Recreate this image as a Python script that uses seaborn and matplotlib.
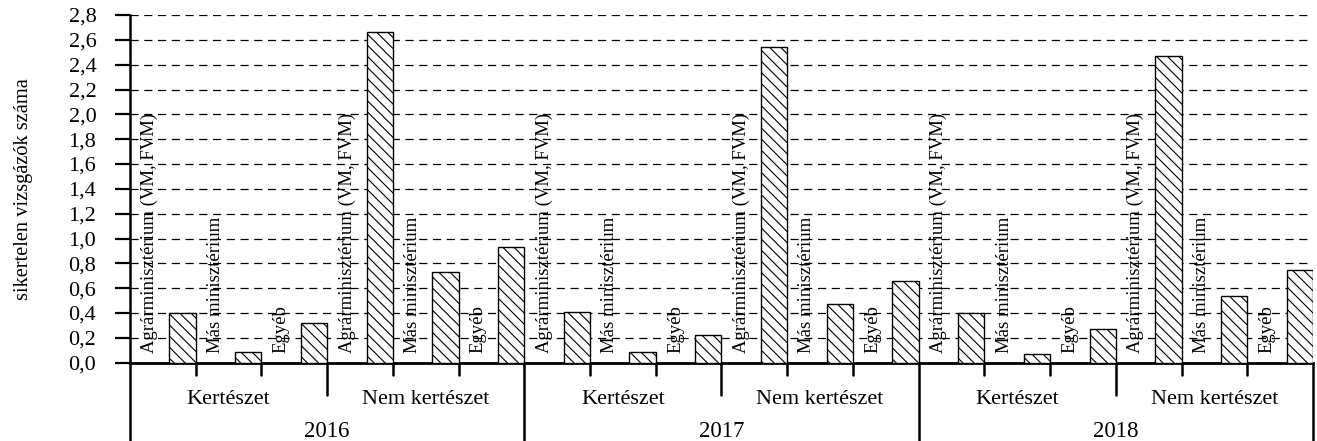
import matplotlib
matplotlib.use("Agg")
import matplotlib.pyplot as plt
import seaborn as sns
import pandas as pd
import numpy as np

# ── data ─────────────────────────────────────────────────────────────────────
years = ["2016", "2017", "2018"]
groups = ["Kertészet", "Nem kertészet"]
categories = ["Agrárminisztérium (VM, FVM)", "Más minisztérium", "Egyéb"]
# order: Kertészet (Agr, Más, Egyéb), Nem kertészet (Agr, Más, Egyéb)
values_2016 = [0.40, 0.09, 0.32, 2.66, 0.73, 0.93]
values_2017 = [0.41, 0.09, 0.22, 2.54, 0.47, 0.66]
values_2018 = [0.40, 0.07, 0.27, 2.47, 0.54, 0.75]
y_ticks = [0.0, 0.2, 0.4, 0.6, 0.8, 1.0, 1.2, 1.4, 1.6, 1.8, 2.0, 2.2, 2.4, 2.6, 2.8]
y_label = "sikertelen vizsgázók száma"

rows = []
for year, vals in zip(years, [values_2016, values_2017, values_2018]):
    for gi, g in enumerate(groups):
        for ci, c in enumerate(categories):
            rows.append({"year": year, "group": g, "category": c,
                         "value": vals[gi * len(categories) + ci]})
df = pd.DataFrame(rows)
df["slot"] = df["year"] + "|" + df["group"] + "|" + df["category"]

sns.set_theme(style="white")
plt.rcParams["font.family"] = ["Liberation Serif", "DejaVu Serif"]
plt.rcParams["hatch.linewidth"] = 0.8
plt.rcParams["hatch.color"] = "black"

W, H = 1317, 441
fig = plt.figure(figsize=(W / 100, H / 100), dpi=100)
ax = fig.add_axes([130 / W, (H - 362.7) / H, 1183 / W, 347.7 / H])

sns.barplot(data=df, x="slot", y="value", order=list(df["slot"]), color="white",
            saturation=1, width=0.4, edgecolor="black", linewidth=1.0,
            hatch="\\\\\\", ax=ax, zorder=3)

n = len(df)
ax.set_xlim(-0.8, n - 0.8)
ax.set_ylim(0, 2.8)
ax.set_xticks([])
ax.set_xlabel("")
ax.set_yticks(y_ticks)
ax.set_yticklabels([f"{v:.1f}".replace(".", ",") for v in y_ticks], fontsize=16)
ax.tick_params(axis="y", direction="out", length=10.8, width=1.6, pad=13.5,
               left=True, colors="black")
ax.yaxis.grid(True, linestyle=(0, (6.5, 4.5)), color="black", linewidth=0.9)
ax.set_axisbelow(True)

for s in ["top", "right"]:
    ax.spines[s].set_visible(False)
ax.spines["left"].set_color("black")
ax.spines["left"].set_linewidth(1.8)
ax.spines["bottom"].set_color("black")
ax.spines["bottom"].set_linewidth(2)

ax.set_ylabel(y_label, fontsize=14.7, color="black")
ax.yaxis.set_label_coords(-0.082, 0.5)

# bar labels to the left of each bar
for i, cat in enumerate(df["category"]):
    ax.text(i - 0.5, 0.075, cat, rotation=90, ha="center", va="bottom",
            fontsize=13.5, color="black", zorder=4)

# hierarchical x axis
tr = ax.get_xaxis_transform()
per_year = len(groups) * len(categories)
for i in range(n):
    edge = i + 0.2
    if (i + 1) % per_year == 0:
        continue
    low = -0.093 if (i + 1) % len(categories) == 0 else -0.035
    ax.plot([edge, edge], [0, low], transform=tr, color="black", lw=1.8, clip_on=False)
for k in range(len(years) + 1):
    edge = k * per_year - 0.8
    ax.plot([edge, edge], [0, -0.23], transform=tr, color="black", lw=1.8, clip_on=False)

for yi, year in enumerate(years):
    for gi, g in enumerate(groups):
        start = yi * per_year + gi * len(categories) - 0.8
        ax.text(start + len(categories) / 2, -0.107, g, transform=tr, ha="center",
                va="center", fontsize=16, color="black")
    ax.text(yi * per_year - 0.8 + per_year / 2, -0.199, year, transform=tr,
            ha="center", va="center", fontsize=16.5, color="black")

fig.savefig("out.png", dpi=100, facecolor="white")
